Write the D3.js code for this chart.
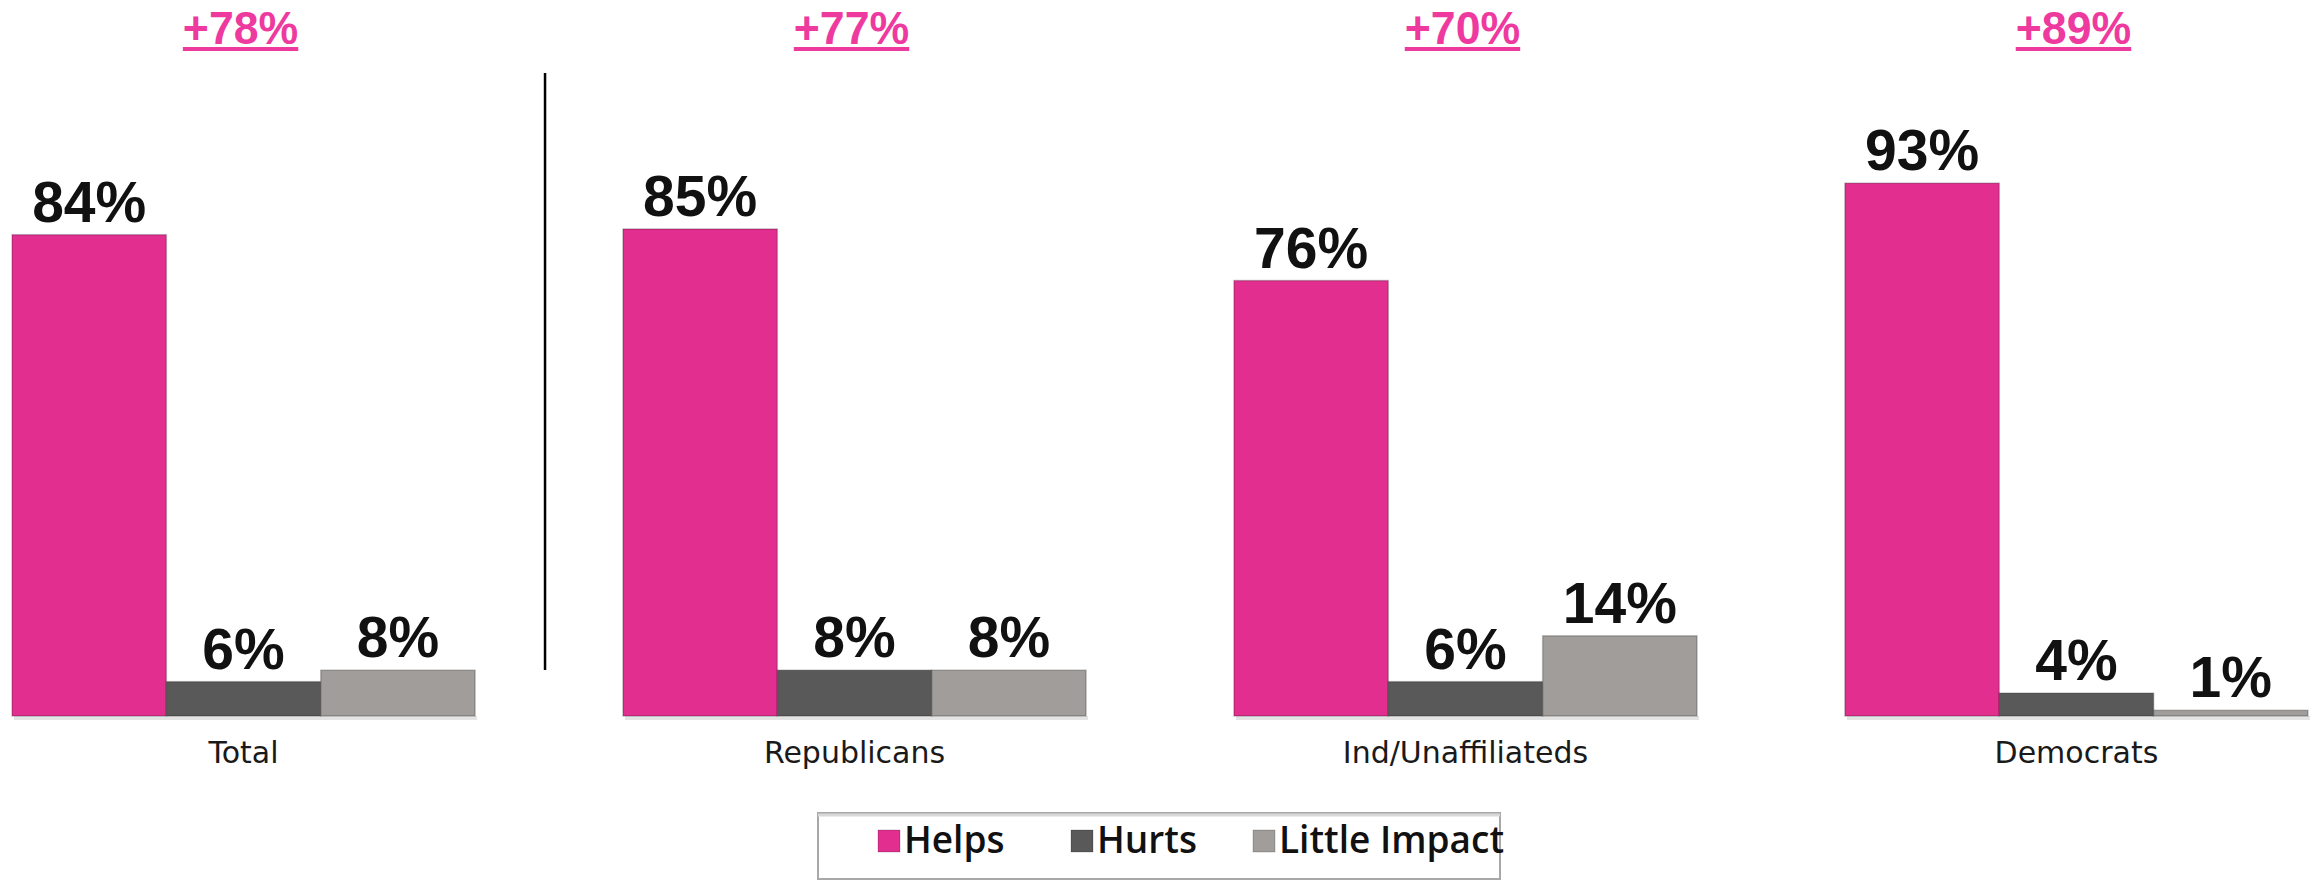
<!DOCTYPE html>
<html>
<head>
<meta charset="utf-8">
<script src="https://cdn.jsdelivr.net/npm/d3@7/dist/d3.min.js"></script>
<style>
  html, body { margin: 0; padding: 0; background: #ffffff; }
  svg { display: block; }
</style>
</head>
<body>
<svg id="chart" width="2320" height="881"></svg>
<script>
// ---- data ----
const categories = ["Total", "Republicans", "Ind/Unaffiliateds", "Democrats"];
const seriesNames = ["Helps", "Hurts", "Little Impact"];
const helps = [84, 85, 76, 93];
const hurts = [6, 8, 6, 4];
const littleImpact = [8, 8, 14, 1];
const netLabels = ["+78%", "+77%", "+70%", "+89%"];
const seriesColors = ["#E12E8F", "#595959", "#A09D9B"];

// ---- build table ----
const seriesValues = [helps, hurts, littleImpact];
const table = categories.map((c, i) => ({
  category: c,
  net: netLabels[i],
  values: seriesNames.map((s, j) => ({ series: s, value: seriesValues[j][i], color: seriesColors[j] }))
}));

const svg = d3.select("#chart");
const baseY = 716;

const y = d3.scaleLinear().domain([0, 100]).range([baseY, 143]);
const x0 = d3.scaleBand().domain(categories).range([12, 2308]).paddingInner(0.242).paddingOuter(0);
const x1 = d3.scaleBand().domain(seriesNames).range([0, x0.bandwidth()]).padding(0);

// faint shadow under each group
svg.append("g").selectAll("rect")
  .data(table)
  .join("rect")
  .attr("x", d => x0(d.category) + 2)
  .attr("y", baseY)
  .attr("width", x0.bandwidth())
  .attr("height", 4)
  .attr("fill", "#e4e4e4");

const groups = svg.append("g").selectAll("g.grp")
  .data(table)
  .join("g")
  .attr("class", "grp")
  .attr("transform", d => `translate(${x0(d.category)},0)`);

groups.selectAll("rect.bar")
  .data(d => d.values)
  .join("rect")
  .attr("class", "bar")
  .attr("x", d => x1(d.series))
  .attr("y", d => y(d.value))
  .attr("width", x1.bandwidth())
  .attr("height", d => baseY - y(d.value))
  .attr("fill", d => d.color)
  .attr("stroke", "rgba(0,0,0,0.22)")
  .attr("stroke-width", 1.5);

// value labels
groups.selectAll("text.val")
  .data(d => d.values)
  .join("text")
  .attr("class", "val")
  .attr("x", d => x1(d.series) + x1.bandwidth() / 2)
  .attr("y", d => y(d.value) - 13)
  .attr("text-anchor", "middle")
  .attr("font-family", "'Liberation Sans', Arial, sans-serif")
  .attr("font-weight", "bold")
  .attr("font-size", 57)
  .attr("fill", "#111111")
  .text(d => d.value + "%");

// category labels
svg.append("g").selectAll("text")
  .data(table)
  .join("text")
  .attr("x", d => x0(d.category) + x0.bandwidth() / 2)
  .attr("y", 763)
  .attr("text-anchor", "middle")
  .attr("font-family", "'DejaVu Sans', Verdana, sans-serif")
  .attr("font-size", 30)
  .attr("fill", "#1a1a1a")
  .text(d => d.category);

// net labels on top, underlined
const netG = svg.append("g").selectAll("g")
  .data(table)
  .join("g")
  .attr("transform", d => `translate(${x0(d.category) + x0.bandwidth() / 2 - 3},44) scale(0.95,1)`);

netG.append("text")
  .attr("x", 0)
  .attr("y", 0)
  .attr("text-anchor", "middle")
  .attr("font-family", "'Liberation Sans', Arial, sans-serif")
  .attr("font-weight", "bold")
  .attr("font-size", 47)
  .attr("fill", "#EE3A9E")
  .text(d => d.net);

netG.each(function() {
  const g = d3.select(this);
  const bb = g.select("text").node().getBBox();
  g.append("rect")
    .attr("x", bb.x)
    .attr("y", 3)
    .attr("width", bb.width)
    .attr("height", 4)
    .attr("fill", "#EE3A9E");
});

// divider between Total and the party groups
const divX = x0(categories[0]) + x0.bandwidth() + (x0.step() - x0.bandwidth()) / 2 - 4;
svg.append("line")
  .attr("x1", divX).attr("x2", divX)
  .attr("y1", 73).attr("y2", 670)
  .attr("stroke", "#000")
  .attr("stroke-width", 2.5);

// legend
const legendBox = { x: 818, y: 813, w: 682, h: 66 };
svg.append("rect")
  .attr("x", legendBox.x)
  .attr("y", legendBox.y)
  .attr("width", legendBox.w)
  .attr("height", legendBox.h)
  .attr("fill", "#fff")
  .attr("stroke", "#a8a8a8")
  .attr("stroke-width", 2);
svg.append("line")
  .attr("x1", legendBox.x).attr("x2", legendBox.x + legendBox.w)
  .attr("y1", legendBox.y + 2).attr("y2", legendBox.y + 2)
  .attr("stroke", "#d8d8d8").attr("stroke-width", 3);

const legendX = [878, 1071, 1253];
const leg = svg.append("g").selectAll("g")
  .data(seriesNames.map((s, i) => ({ name: s, color: seriesColors[i], x: legendX[i] })))
  .join("g")
  .attr("transform", d => `translate(${d.x},0)`);
leg.append("rect")
  .attr("x", 0).attr("y", 830)
  .attr("width", 22).attr("height", 22)
  .attr("fill", d => d.color)
  .attr("stroke", "rgba(0,0,0,0.2)")
  .attr("stroke-width", 1);
leg.append("text")
  .attr("x", 26).attr("y", 853)
  .attr("font-family", "'Open Sans', 'Liberation Sans', sans-serif")
  .attr("font-weight", 600)
  .attr("font-size", 37)
  .attr("fill", "#111")
  .text(d => d.name);
</script>
</body>
</html>
